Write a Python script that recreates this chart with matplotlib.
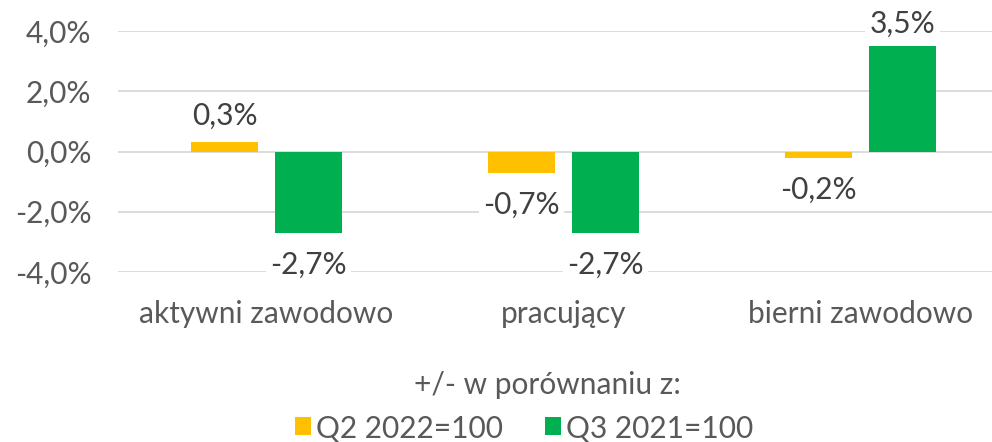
import numpy as np
import matplotlib
matplotlib.use("Agg")
import matplotlib.pyplot as plt
from matplotlib.patches import Patch

categories = ["aktywni zawodowo", "pracujący", "bierni zawodowo"]
q2_2022 = [0.3, -0.7, -0.2]
q3_2021 = [-2.7, -2.7, 3.5]
series_names = ["Q2 2022=100", "Q3 2021=100"]
legend_title = "+/- w porównaniu z:"
y_ticks = [-4, -2, 0, 2, 4]

YELLOW = "#FFC000"
GREEN = "#00B050"
TICK_GRAY = "#595959"
LABEL_GRAY = "#404040"
FS = 21.5

plt.rcParams["font.family"] = ["Lato", "DejaVu Sans"]

W, H = 992, 442
fig = plt.figure(figsize=(W / 100, H / 100), dpi=100)
ax = fig.add_axes([118 / W, 1 - 272 / H, 891 / W, 241 / H])

x = np.arange(len(categories))
bw = 0.2256
off = 0.1414
b1 = ax.bar(x - off, q2_2022, bw, color=YELLOW, zorder=2)
b2 = ax.bar(x + off, q3_2021, bw, color=GREEN, zorder=2)

def fmt(v):
    return f"{v:.1f}%".replace(".", ",")

for bars, vals in ((b1, q2_2022), (b2, q3_2021)):
    for rect, v in zip(bars, vals):
        cx = rect.get_x() + rect.get_width() / 2
        dy = 19 if v >= 0 else -23
        if v > 3:
            dy = 16
        ax.annotate(fmt(v), (cx, v), xytext=(0, dy), textcoords="offset points",
                    ha="center", va="center", fontsize=FS, color=LABEL_GRAY,
                    annotation_clip=False, zorder=4,
                    bbox=dict(facecolor="white", edgecolor="none", pad=3))

ax.set_xlim(-0.5, 2.5)
ax.set_ylim(-4, 4)
ax.set_yticks(y_ticks)
ax.set_yticklabels([fmt(t) for t in y_ticks])
ax.set_xticks(x)
ax.set_xticklabels(categories)
ax.tick_params(axis="y", length=0, pad=19, labelsize=FS, labelcolor=TICK_GRAY)
ax.tick_params(axis="x", length=0, pad=20, labelsize=FS, labelcolor=TICK_GRAY)
ax.yaxis.grid(True, color="#D9D9D9", linewidth=1.3, zorder=0)
ax.set_axisbelow(True)
for s in ax.spines.values():
    s.set_visible(False)

fig.text(547 / W, 1 - 385 / H, legend_title, ha="center", va="center",
         fontsize=FS, color=TICK_GRAY)
handles = [Patch(facecolor=YELLOW, edgecolor="none"),
           Patch(facecolor=GREEN, edgecolor="none")]
fig.legend(handles, series_names, loc="center",
           bbox_to_anchor=(524 / W, 1 - 428 / H), ncol=2, frameon=False,
           fontsize=FS, handlelength=0.55, handleheight=0.55,
           handletextpad=0.15, columnspacing=1.4, labelcolor=TICK_GRAY,
           borderpad=0, borderaxespad=0)

fig.savefig("out.png", dpi=100)
